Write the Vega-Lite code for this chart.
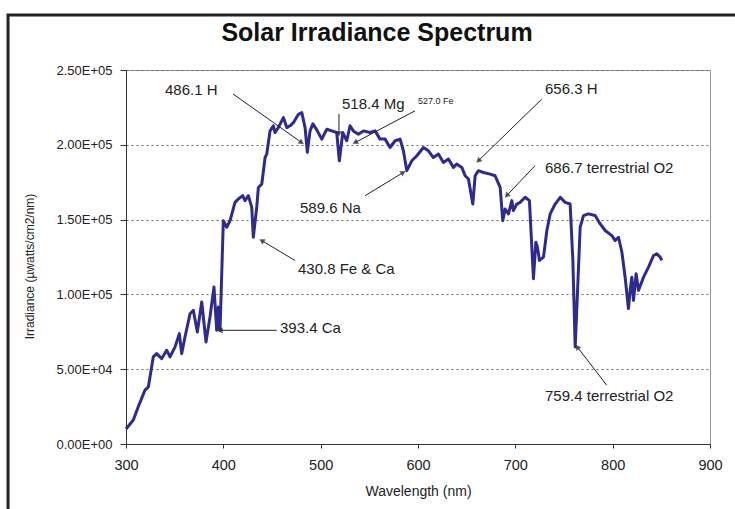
{
  "$schema": "https://vega.github.io/schema/vega-lite/v6.json",
  "autosize": {"type": "none"},
  "width": 584,
  "height": 374,
  "padding": {"left": 126, "top": 70, "right": 25, "bottom": 65},
  "background": "white",
  "title": {
    "text": "Solar Irradiance Spectrum",
    "font": "Liberation Sans",
    "fontSize": 25,
    "fontWeight": "bold",
    "color": "#111",
    "anchor": "middle",
    "dx": -41,
    "offset": -33
  },
  "config": {
    "view": {"stroke": "#999", "strokeWidth": 1},
    "font": "Liberation Sans"
  },
  "datasets": {
    "spectrum": [
      {"wl": 300, "irr": 10000}, {"wl": 307.5, "irr": 16000}, {"wl": 312.6, "irr": 24900}, {"wl": 319.5, "irr": 36000},
      {"wl": 323, "irr": 38200}, {"wl": 328, "irr": 58200}, {"wl": 331.5, "irr": 60400}, {"wl": 336.7, "irr": 57100},
      {"wl": 341.8, "irr": 62700}, {"wl": 345.2, "irr": 58200}, {"wl": 350.4, "irr": 64900}, {"wl": 354.8, "irr": 73800},
      {"wl": 357.2, "irr": 60400}, {"wl": 360.6, "irr": 71500}, {"wl": 365.8, "irr": 87100}, {"wl": 369.2, "irr": 89300},
      {"wl": 373.3, "irr": 74900}, {"wl": 377.8, "irr": 94900}, {"wl": 382.2, "irr": 68200}, {"wl": 386.3, "irr": 84900},
      {"wl": 390.4, "irr": 104900}, {"wl": 393.2, "irr": 76000}, {"wl": 394.9, "irr": 91500}, {"wl": 396.6, "irr": 76000},
      {"wl": 400, "irr": 149300}, {"wl": 403.5, "irr": 144900}, {"wl": 406.9, "irr": 149300}, {"wl": 412, "irr": 161500},
      {"wl": 415.4, "irr": 163800}, {"wl": 419.9, "irr": 166000}, {"wl": 422.3, "irr": 162700}, {"wl": 425.7, "irr": 166000},
      {"wl": 429.2, "irr": 158200}, {"wl": 430.8, "irr": 138200}, {"wl": 434.3, "irr": 158200}, {"wl": 436, "irr": 171500},
      {"wl": 439.5, "irr": 173800}, {"wl": 442.9, "irr": 191500}, {"wl": 444.6, "irr": 193800}, {"wl": 448, "irr": 209300},
      {"wl": 451.4, "irr": 212700}, {"wl": 453.1, "irr": 208200}, {"wl": 456.5, "irr": 211500}, {"wl": 461.7, "irr": 218200},
      {"wl": 465.2, "irr": 211500}, {"wl": 468.5, "irr": 212700}, {"wl": 472, "irr": 214800}, {"wl": 477.1, "irr": 220400},
      {"wl": 480.6, "irr": 221500}, {"wl": 484, "irr": 211500}, {"wl": 486.3, "irr": 195000}, {"wl": 489.1, "irr": 209300},
      {"wl": 492, "irr": 214000}, {"wl": 496, "irr": 210000}, {"wl": 501.1, "irr": 203800}, {"wl": 506.3, "irr": 210400},
      {"wl": 511.4, "irr": 209300}, {"wl": 516.5, "irr": 208200}, {"wl": 519.2, "irr": 189300}, {"wl": 522.7, "irr": 208200},
      {"wl": 526.8, "irr": 202700}, {"wl": 530.2, "irr": 212700}, {"wl": 533.6, "irr": 209300}, {"wl": 538.7, "irr": 207100},
      {"wl": 543.9, "irr": 209300}, {"wl": 550.8, "irr": 208200}, {"wl": 555.9, "irr": 209300}, {"wl": 561, "irr": 203800},
      {"wl": 566.2, "irr": 203800}, {"wl": 571.3, "irr": 198200}, {"wl": 576.5, "irr": 202700}, {"wl": 581.6, "irr": 203800},
      {"wl": 585, "irr": 196000}, {"wl": 588.5, "irr": 182700}, {"wl": 593.6, "irr": 189300}, {"wl": 598.8, "irr": 192700},
      {"wl": 605.6, "irr": 198200}, {"wl": 610.7, "irr": 196000}, {"wl": 615.8, "irr": 191500}, {"wl": 621, "irr": 193800},
      {"wl": 626.1, "irr": 188200}, {"wl": 631.2, "irr": 190500}, {"wl": 636.4, "irr": 184900}, {"wl": 639.8, "irr": 187100},
      {"wl": 645, "irr": 184900}, {"wl": 648.4, "irr": 179300}, {"wl": 651.8, "irr": 177100}, {"wl": 656.3, "irr": 160400},
      {"wl": 658.7, "irr": 179300}, {"wl": 662.1, "irr": 182700}, {"wl": 667.2, "irr": 181500}, {"wl": 674.1, "irr": 180400},
      {"wl": 679.2, "irr": 179300}, {"wl": 684.4, "irr": 171500}, {"wl": 687.1, "irr": 149300}, {"wl": 689.5, "irr": 157100},
      {"wl": 692.9, "irr": 153800}, {"wl": 696.4, "irr": 162700}, {"wl": 698, "irr": 156000}, {"wl": 701.5, "irr": 160400},
      {"wl": 704.9, "irr": 161500}, {"wl": 710.1, "irr": 164900}, {"wl": 714.5, "irr": 162700}, {"wl": 715.9, "irr": 144900},
      {"wl": 718.6, "irr": 110500}, {"wl": 721.1, "irr": 134900}, {"wl": 722.7, "irr": 131500}, {"wl": 724.8, "irr": 122700},
      {"wl": 728.9, "irr": 124900}, {"wl": 732.4, "irr": 142700}, {"wl": 735.8, "irr": 153800}, {"wl": 740.9, "irr": 160400},
      {"wl": 746.1, "irr": 164900}, {"wl": 751.2, "irr": 161500}, {"wl": 756.3, "irr": 160400}, {"wl": 759.1, "irr": 122700},
      {"wl": 761.5, "irr": 64900}, {"wl": 763.8, "irr": 100400}, {"wl": 766.6, "irr": 144900}, {"wl": 770, "irr": 152700},
      {"wl": 775.1, "irr": 153800}, {"wl": 782, "irr": 152700}, {"wl": 787.2, "irr": 147100}, {"wl": 792.3, "irr": 142700},
      {"wl": 799.2, "irr": 139300}, {"wl": 802.6, "irr": 136000}, {"wl": 806, "irr": 138200}, {"wl": 809.5, "irr": 128200},
      {"wl": 812.8, "irr": 111500}, {"wl": 816.2, "irr": 90500}, {"wl": 818, "irr": 102700}, {"wl": 819.7, "irr": 111500},
      {"wl": 821.4, "irr": 96000}, {"wl": 824.1, "irr": 113800}, {"wl": 826.5, "irr": 102700}, {"wl": 831.7, "irr": 111500},
      {"wl": 836.8, "irr": 118200}, {"wl": 842, "irr": 126000}, {"wl": 845.4, "irr": 127100}, {"wl": 848.8, "irr": 124900},
      {"wl": 850.5, "irr": 122700}
    ],
    "labels": [
      {"label": "486.1 H", "wl": 340.1, "irr": 236700},
      {"label": "518.4 Mg", "wl": 521.9, "irr": 227300},
      {"label": "527.0 Fe", "wl": 600.0, "irr": 229300},
      {"label": "656.3 H", "wl": 730.5, "irr": 237300},
      {"label": "686.7 terrestrial O2", "wl": 730.5, "irr": 184700},
      {"label": "589.6 Na", "wl": 478.8, "irr": 158000},
      {"label": "430.8 Fe & Ca", "wl": 476.7, "irr": 117300},
      {"label": "393.4 Ca", "wl": 458.2, "irr": 77300},
      {"label": "759.4 terrestrial O2", "wl": 730.5, "irr": 32000}
    ],
    "arrows": [
      {"line": "486.1 H", "wl": 409.9, "irr": 234000, "wl2": 480.5, "irr2": 201500},
      {"line": "518.4 Mg", "wl": 518.8, "irr": 220700, "wl2": 518.8, "irr2": 207300},
      {"line": "527.0 Fe", "wl": 596.9, "irr": 222700, "wl2": 535.3, "irr2": 201500},
      {"line": "656.3 H", "wl": 727.1, "irr": 230500, "wl2": 662.0, "irr2": 189300},
      {"line": "686.7 terrestrial O2", "wl": 720.2, "irr": 186000, "wl2": 691.1, "irr2": 166000},
      {"line": "589.6 Na", "wl": 545.6, "irr": 166000, "wl2": 584.9, "irr2": 181500},
      {"line": "430.8 Fe & Ca", "wl": 473.6, "irr": 122700, "wl2": 439.4, "irr2": 136000},
      {"line": "393.4 Ca", "wl": 454.8, "irr": 76000, "wl2": 396.6, "irr2": 76000},
      {"line": "759.4 terrestrial O2", "wl": 793.9, "irr": 39300, "wl2": 763.6, "irr2": 64900}
    ]
  },
  "layer": [
    {
      "data": {"values": [{}]},
      "mark": {"type": "rect", "fillOpacity": 0, "stroke": "#222", "strokeWidth": 3, "clip": false},
      "encoding": {
        "x": {"datum": 178.8, "type": "quantitative"},
        "x2": {"datum": 931},
        "y": {"datum": 286765, "type": "quantitative"},
        "y2": {"datum": -50800}
      }
    },
    {
      "data": {"name": "spectrum"},
      "mark": {"type": "line", "color": "#2E2B8F", "strokeWidth": 3, "strokeJoin": "round"},
      "encoding": {
        "x": {
          "field": "wl", "type": "quantitative",
          "scale": {"domain": [300, 900], "nice": false, "zero": false},
          "axis": {
            "values": [300, 400, 500, 600, 700, 800, 900],
            "labelFlush": false,
            "title": "Wavelength (nm)",
            "titleFont": "Liberation Sans",
            "titleFontSize": 14,
            "titleFontWeight": "normal",
            "titleColor": "#222",
            "titlePadding": 13,
            "labelFont": "Liberation Sans",
            "labelFontSize": 14.5,
            "labelColor": "#222",
            "labelPadding": 10,
            "tickSize": 4,
            "tickColor": "#333",
            "domainColor": "#333",
            "grid": false
          }
        },
        "y": {
          "field": "irr", "type": "quantitative",
          "scale": {"domain": [0, 250000], "nice": false},
          "axis": {
            "values": [0, 50000, 100000, 150000, 200000, 250000],
            "labelFlush": false,
            "labelExpr": "upper(replace(format(datum.value, '.2e'), 'e+', 'e+0'))",
            "title": "Irradiance (µwatts/cm2/nm)",
            "titleFont": "Liberation Sans",
            "titleFontSize": 12,
            "titleFontWeight": "normal",
            "titleColor": "#222",
            "titleX": -97,
            "titleY": 196,
            "titleAlign": "center",
            "titleBaseline": "middle",
            "labelFont": "Liberation Sans",
            "labelFontSize": 13,
            "labelColor": "#222",
            "labelPadding": 8,
            "tickSize": 6,
            "tickColor": "#333",
            "domainColor": "#333",
            "grid": true,
            "gridDash": [2, 3],
            "gridColor": "#666",
            "gridWidth": 1
          }
        }
      }
    },
    {
      "data": {"name": "arrows"},
      "mark": {"type": "rule", "color": "#222", "strokeWidth": 1},
      "encoding": {
        "x": {"field": "wl", "type": "quantitative"},
        "y": {"field": "irr", "type": "quantitative"},
        "x2": {"field": "wl2"},
        "y2": {"field": "irr2"}
      }
    },
    {
      "data": {"name": "arrows"},
      "transform": [
        {"calculate": "atan2((datum.wl2 - datum.wl) * 0.97333, (datum.irr2 - datum.irr) * 0.001496) * 180 / PI", "as": "ang"}
      ],
      "mark": {"type": "point", "shape": "triangle-up", "filled": true, "color": "#222", "size": 40},
      "encoding": {
        "x": {"field": "wl2", "type": "quantitative"},
        "y": {"field": "irr2", "type": "quantitative"},
        "angle": {"field": "ang", "type": "quantitative", "scale": null}
      }
    },
    {
      "data": {"name": "labels"},
      "transform": [{"filter": "datum.label != '527.0 Fe'"}],
      "mark": {"type": "text", "align": "left", "baseline": "middle", "font": "Liberation Sans", "fontSize": 15, "color": "#222"},
      "encoding": {
        "x": {"field": "wl", "type": "quantitative"},
        "y": {"field": "irr", "type": "quantitative"},
        "text": {"field": "label"}
      }
    },
    {
      "data": {"name": "labels"},
      "transform": [{"filter": "datum.label == '527.0 Fe'"}],
      "mark": {"type": "text", "align": "left", "baseline": "middle", "font": "Liberation Sans", "fontSize": 9, "color": "#222"},
      "encoding": {
        "x": {"field": "wl", "type": "quantitative"},
        "y": {"field": "irr", "type": "quantitative"},
        "text": {"field": "label"}
      }
    }
  ]
}
